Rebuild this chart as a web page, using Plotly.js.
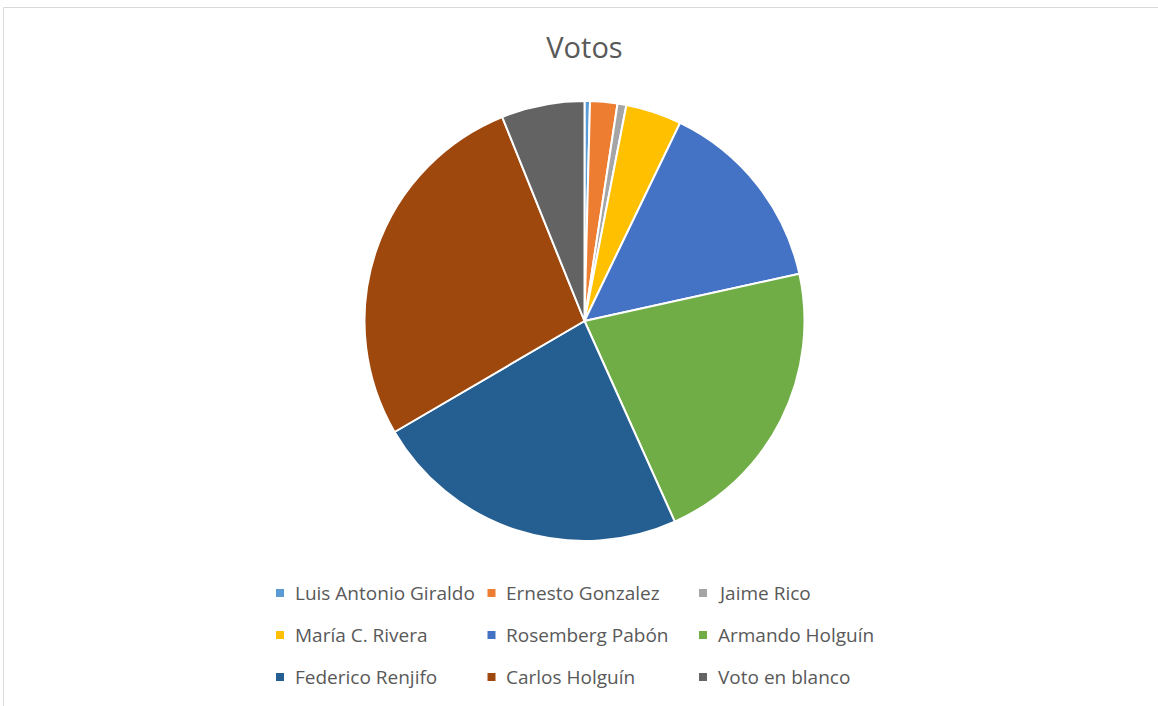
<!DOCTYPE html>
<html>
<head>
<meta charset="utf-8">
<script src="https://cdn.plot.ly/plotly-3.0.1.min.js"></script>
<style>
  html, body { margin: 0; padding: 0; background: #ffffff; }
  #chart { width: 1158px; height: 706px; }
</style>
</head>
<body>
<div id="chart"></div>
<script>
// ---- data ----
const candidates = [
  "Luis Antonio Giraldo", "Ernesto Gonzalez", "Jaime Rico",
  "María C. Rivera", "Rosemberg Pabón", "Armando Holguín",
  "Federico Renjifo", "Carlos Holguín", "Voto en blanco"
];
const votes = [0.4, 2.0, 0.65, 4.1, 14.4, 21.7, 23.3, 27.3, 6.1];
const sliceColors = [
  "#5B9BD5", "#ED7D31", "#A5A5A5",
  "#FFC000", "#4472C4", "#70AD47",
  "#255E91", "#9E480E", "#636363"
];
const chartTitle = "Votos";

// ---- layout helpers ----
const W = 1158, H = 706;
const px = x => x / W;
const py = y => 1 - y / H;

const FONT = "Open Sans, Noto Sans, DejaVu Sans, sans-serif";
const TEXT_COLOR = "#595959";

// Pie geometry (pixels)
const cx = 584.5, cy = 321, r = 220;

// Legend grid (pixels)
const legCols = 3;
const legX0 = 280, legDX = 211.5;
const legY0 = 593, legDY = 42;
const markSize = 8, textOffset = 12.5;

const annotations = [];
const shapes = [];

// chart frame
shapes.push({
  type: "rect", xref: "paper", yref: "paper",
  x0: px(3.5), x1: px(W + 5), y0: py(H + 5), y1: py(7.5),
  line: { color: "#D9D9D9", width: 1 }, fillcolor: "rgba(0,0,0,0)", layer: "below"
});

candidates.forEach((name, i) => {
  const col = i % legCols, row = Math.floor(i / legCols);
  const mx = legX0 + col * legDX;
  const my = legY0 + row * legDY;
  shapes.push({
    type: "rect", xref: "paper", yref: "paper",
    x0: px(mx - markSize / 2), x1: px(mx + markSize / 2),
    y0: py(my + markSize / 2), y1: py(my - markSize / 2),
    line: { width: 0 }, fillcolor: sliceColors[i]
  });
  annotations.push({
    xref: "paper", yref: "paper",
    x: px(mx + textOffset), y: py(my),
    xanchor: "left", yanchor: "middle",
    text: name, showarrow: false,
    font: { family: FONT, size: 19, color: TEXT_COLOR }
  });
});

const data = [{
  type: "pie",
  labels: candidates,
  values: votes,
  sort: false,
  direction: "clockwise",
  rotation: 0,
  textinfo: "none",
  hoverinfo: "label+value+percent",
  marker: { colors: sliceColors, line: { color: "#ffffff", width: 2 } },
  domain: { x: [px(cx - r), px(cx + r)], y: [py(cy + r), py(cy - r)] },
  showlegend: false
}];

const layout = {
  width: W, height: H,
  margin: { l: 0, r: 0, t: 0, b: 0 },
  paper_bgcolor: "#ffffff",
  plot_bgcolor: "#ffffff",
  showlegend: false,
  title: {
    text: chartTitle,
    x: cx / W, xanchor: "center",
    y: py(48), yanchor: "middle",
    font: { family: FONT, size: 29, color: TEXT_COLOR }
  },
  annotations: annotations,
  shapes: shapes
};

Plotly.newPlot("chart", data, layout, { displayModeBar: false });
</script>
</body>
</html>
